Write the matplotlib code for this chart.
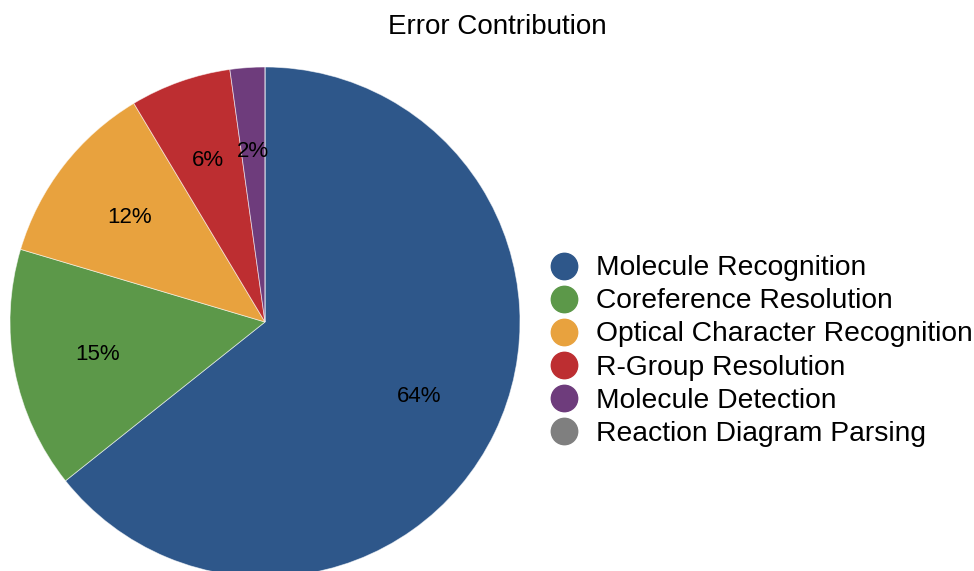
import matplotlib.pyplot as plt
from matplotlib.lines import Line2D

plt.rcParams['font.family'] = ['Liberation Sans', 'DejaVu Sans']

categories = ['Molecule Recognition', 'Coreference Resolution', 'Optical Character Recognition',
              'R-Group Resolution', 'Molecule Detection', 'Reaction Diagram Parsing']
shares = [64.3, 15.3, 11.8, 6.4, 2.2, 0.0]
colors = ['#2E578A', '#5C9849', '#E8A23E', '#BD2E31', '#6E3C7C', '#7F7F7F']

W, H = 974, 571
fig = plt.figure(figsize=(W / 100, H / 100), dpi=100)

# pie axes: center (265, 322) px, radius 255 px
cx, cy, r = 265, 322, 255
ax = fig.add_axes([(cx - r) / W, (H - cy - r) / H, 2 * r / W, 2 * r / H])
ax.pie(shares, colors=colors, startangle=90, counterclock=False,
       autopct=lambda p: f'{p:.0f}%' if p >= 1 else '', pctdistance=0.67,
       wedgeprops=dict(edgecolor=(1, 1, 1, 0.6), linewidth=0.6),
       textprops=dict(fontsize=16, color='black'))
ax.set_xlim(-1, 1)
ax.set_ylim(-1, 1)
ax.set_aspect('auto')
ax.axis('off')

fig.text(497 / W, 1 - 27 / H, 'Error Contribution', ha='center', va='center', fontsize=20)

handles = [Line2D([], [], marker='o', linestyle='none', markersize=19,
                  markerfacecolor=c, markeredgecolor=c) for c in colors]
fig.legend(handles, categories, loc='center left', bbox_to_anchor=(550 / W, 1 - 351 / H),
           frameon=False, fontsize=20.3, labelspacing=0.25, handlelength=1.0,
           handletextpad=0.62, borderaxespad=0, borderpad=0)

fig.savefig('out.png', dpi=100)
